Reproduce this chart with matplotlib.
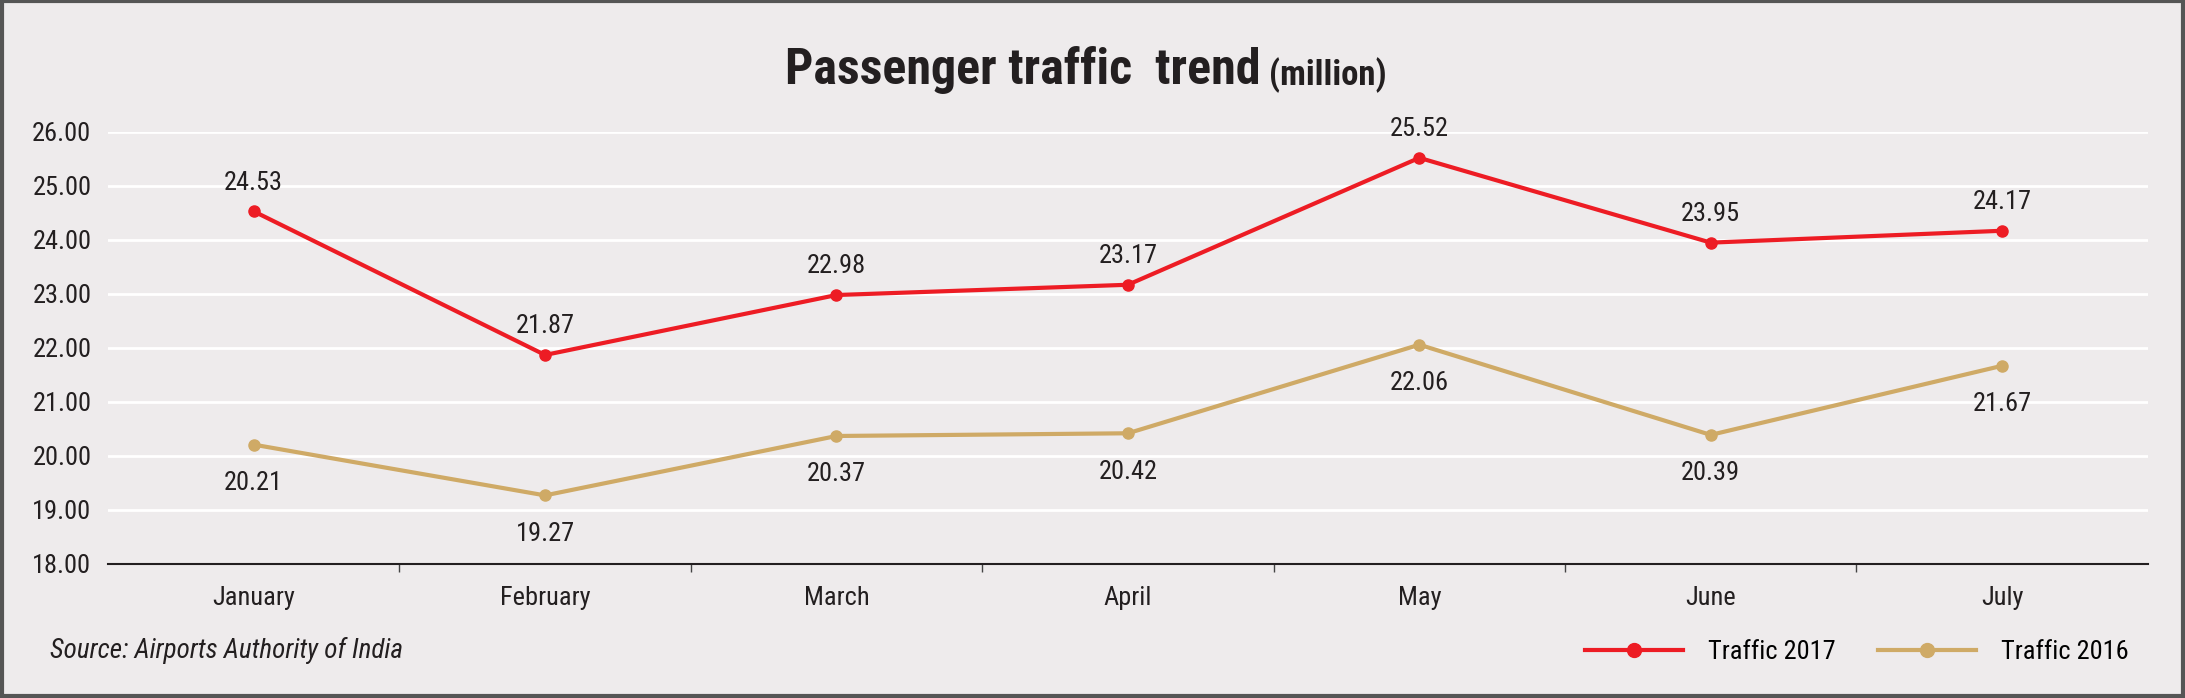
import matplotlib.pyplot as plt
from matplotlib.lines import Line2D
from matplotlib.patches import Rectangle
from matplotlib import font_manager

# data
months = ["January", "February", "March", "April", "May", "June", "July"]
traffic_2017 = [24.53, 21.87, 22.98, 23.17, 25.52, 23.95, 24.17]
traffic_2016 = [20.21, 19.27, 20.37, 20.42, 22.06, 20.39, 21.67]
y_ticks = [18, 19, 20, 21, 22, 23, 24, 25, 26]

RED = "#ED1C24"
TAN = "#CFAA66"
BG = "#EEEBEC"
INK = "#231F20"

# pick a condensed family if one is there
names = {f.name for f in font_manager.fontManager.ttflist}
family = "Liberation Sans"
for cand in ["Roboto Condensed", "Liberation Sans Narrow", "Open Sans Condensed",
             "DejaVu Sans Condensed", "Arial Narrow"]:
    if cand in names:
        family = cand
        break
plt.rcParams["font.family"] = [family, "DejaVu Sans"]

fig = plt.figure(figsize=(21.85, 6.98), dpi=100, facecolor=BG)
ax = fig.add_axes([0.0494, 0.192, 0.9336, 0.619])
ax.set_facecolor(BG)

x = list(range(len(months)))
ax.plot(x, traffic_2017, color=RED, lw=3, marker="o", ms=8, zorder=3)
ax.plot(x, traffic_2016, color=TAN, lw=3, marker="o", ms=8, zorder=3)

# data labels: 2017 above, 2016 below
for i, v in enumerate(traffic_2017):
    ax.annotate(f"{v:.2f}", (i, v), xytext=(0, 12), textcoords="offset points",
                ha="center", va="bottom", fontsize=19, color=INK)
for i, v in enumerate(traffic_2016):
    ax.annotate(f"{v:.2f}", (i, v), xytext=(0, -19), textcoords="offset points",
                ha="center", va="top", fontsize=19, color=INK)

ax.set_xlim(-0.5, len(months) - 0.5)
ax.set_ylim(18, 26)
ax.set_yticks(y_ticks)
ax.set_yticklabels([f"{t:.2f}" for t in y_ticks], fontsize=19, color=INK)
ax.yaxis.grid(True, color="white", lw=2)
ax.set_axisbelow(True)
ax.tick_params(axis="y", length=0, pad=12)

# month names centred, small ticks on the boundaries
ax.set_xticks(x)
ax.set_xticklabels(months, fontsize=19, color=INK)
ax.tick_params(axis="x", which="major", length=0, pad=16)
ax.set_xticks([i + 0.5 for i in x[:-1]], minor=True)
ax.tick_params(axis="x", which="minor", length=6, width=1, color="#444444", direction="out")

for s in ["top", "right", "left"]:
    ax.spines[s].set_visible(False)
ax.spines["bottom"].set_color(INK)
ax.spines["bottom"].set_linewidth(1.5)

# title
fig.text(0.577, 0.9, "Passenger traffic  trend", fontsize=36, fontweight="heavy",
         ha="right", va="center", color=INK)
fig.text(0.577, 0.893, " (million)", fontsize=25, fontweight="heavy",
         ha="left", va="center", color=INK)

fig.text(0.023, 0.068, "Source: Airports Authority of India", fontsize=19.5,
         style="italic", ha="left", va="center", color=INK)

handles = [Line2D([], [], color=RED, lw=3, marker="o", ms=10),
           Line2D([], [], color=TAN, lw=3, marker="o", ms=10)]
fig.legend(handles, ["Traffic 2017", "Traffic 2016"], loc="center right",
           bbox_to_anchor=(0.985, 0.066), ncol=2, frameon=False, fontsize=19,
           handlelength=3.7, handletextpad=0.95, columnspacing=1.6)

# outer frame
fig.patches.append(Rectangle((0.0007, 0.003), 0.9986, 0.995, transform=fig.transFigure,
                             fill=False, edgecolor="#555555", lw=3))

plt.savefig("out.png", dpi=100, facecolor=BG)
